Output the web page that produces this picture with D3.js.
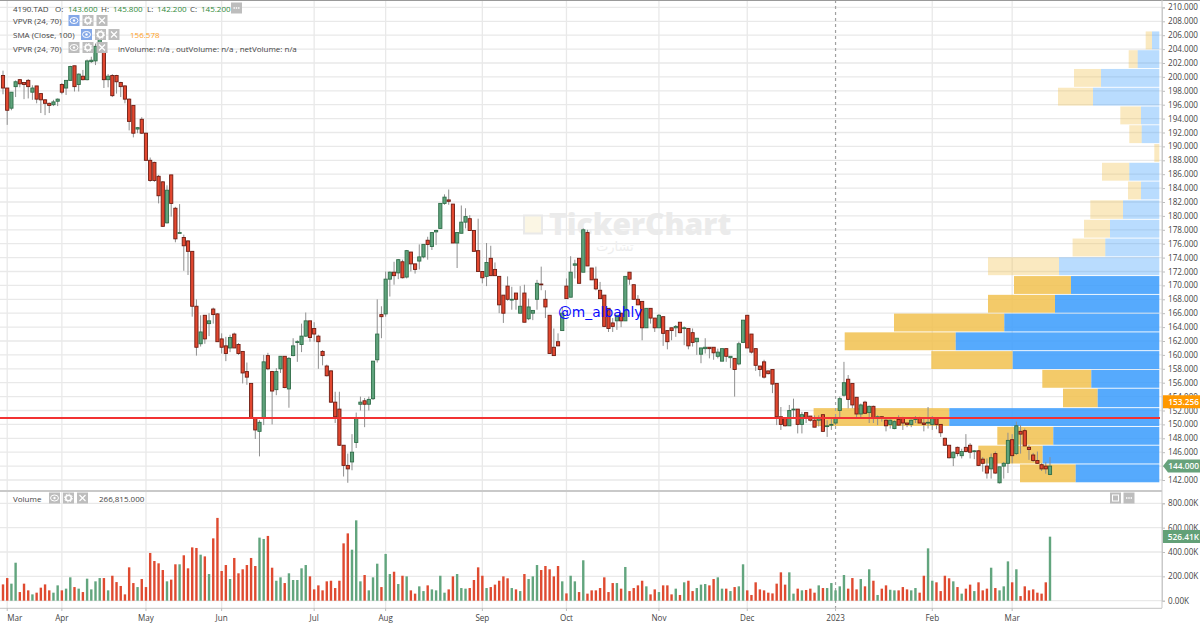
<!DOCTYPE html>
<html>
<head>
<meta charset="utf-8">
<script src="https://cdn.jsdelivr.net/npm/d3@7"></script>
<style>
  html, body { margin: 0; padding: 0; background: #fff; }
  svg { display: block; }
  text { font-family: 'Open Sans', sans-serif; }
</style>
</head>
<body>
<div id="chart"></div>
<script>
const opens = [
  200.2,198.4,195.5,198.6,199.6,199.2,199.5,197.8,198.7,197.6,
  196.7,196.2,196.0,196.5,198.9,198.4,199.5,201.6,198.9,200.1,
  199.6,202.2,202.3,204.4,203.9,199.6,200.2,200.2,199.2,198.7,
  196.8,195.9,192.5,193.9,191.9,188.0,187.7,185.7,184.9,179.0,
  185.9,181.1,177.5,176.9,176.4,174.9,167.0,161.6,165.7,164.5,
  166.6,165.9,162.3,161.3,161.0,163.0,161.5,160.5,157.6,155.9,
  150.9,149.0,150.9,159.9,157.6,155.0,158.0,159.8,155.1,159.9,
  161.8,161.5,162.7,164.9,163.8,162.7,160.5,158.4,157.7,153.2,
  152.2,147.0,144.1,144.6,147.4,152.9,153.4,152.9,153.7,159.3,
  165.8,165.9,170.9,171.9,171.8,173.4,171.2,174.8,173.1,173.5,
  174.1,176.5,175.6,177.7,178.2,181.8,182.3,181.7,176.1,177.5,
  179.1,179.6,177.9,175.0,172.0,171.3,173.9,172.3,171.3,168.6,
  169.9,167.9,168.9,166.0,168.9,165.2,166.0,168.0,170.2,168.0,
  165.7,161.1,161.9,163.5,169.9,168.3,172.9,173.9,171.9,177.6,
  172.5,170.9,169.3,168.6,166.7,164.6,164.9,166.0,164.9,171.9,
  170.1,168.0,167.7,163.9,166.7,165.3,163.9,165.5,163.5,163.9,
  163.9,164.7,163.8,163.8,163.2,161.9,160.1,160.9,161.1,161.1,
  159.8,159.1,160.9,159.6,159.5,158.7,161.8,165.7,163.0,160.9,
  158.4,159.0,157.7,157.9,155.9,151.1,151.0,149.8,152.1,152.2,
  150.0,151.7,151.2,150.6,150.6,151.4,149.7,149.9,150.2,152.0,
  154.2,156.5,155.9,153.9,151.5,153.2,151.7,152.6,151.0,151.1,
  150.6,150.0,149.4,150.7,150.9,150.2,150.0,150.7,150.9,150.2,
  150.2,150.0,150.9,150.0,148.0,147.0,145.2,146.7,145.5,146.7,
  147.0,146.1,146.2,145.0,144.0,143.6,145.8,141.6,144.0,144.4,
  147.8,145.8,149.0,149.1,146.7,145.6,144.8,144.2,144.0,142.8
]
const highs = [
  200.9,198.4,197.8,199.5,199.7,199.2,199.7,198.8,198.7,197.6,
  196.8,196.3,196.7,196.9,199.1,199.5,201.6,201.6,200.5,201.0,
  202.5,202.9,204.8,205.9,204.8,200.4,200.4,200.3,199.3,198.8,
  196.9,195.9,192.8,194.2,192.0,188.4,187.8,185.9,185.0,184.4,
  185.9,181.3,181.7,177.3,176.5,174.9,168.0,165.7,165.7,166.0,
  166.8,166.0,163.1,162.6,162.9,163.2,161.7,160.5,158.9,155.9,
  150.9,150.6,160.0,160.3,157.7,158.1,159.8,159.8,159.7,162.4,
  162.1,164.5,166.1,164.9,164.7,162.9,160.7,158.6,157.8,154.7,
  154.7,147.0,145.8,148.6,151.7,154.0,153.8,154.0,159.1,168.0,
  167.0,172.0,172.0,173.4,173.8,173.7,175.1,174.8,173.1,175.9,
  175.9,177.0,177.6,178.0,181.8,183.1,183.8,181.7,177.6,181.5,
  181.1,180.1,177.9,179.6,172.0,176.1,175.7,173.3,171.3,168.6,
  171.3,169.8,168.9,169.9,170.1,168.1,166.4,170.8,172.7,169.3,
  165.7,163.8,163.1,166.9,171.0,174.2,173.7,173.9,178.2,178.0,
  172.5,172.7,170.5,168.6,166.7,165.3,165.7,166.0,171.3,171.9,
  170.1,168.6,167.7,166.7,166.7,165.3,165.9,165.5,163.5,163.9,
  164.3,164.7,164.1,163.8,163.8,162.4,161.0,162.4,161.1,161.1,
  160.9,160.9,160.9,159.8,159.5,161.9,165.0,165.7,163.0,160.9,
  158.4,159.3,157.7,157.9,155.9,152.5,151.0,152.8,153.7,152.2,
  151.8,151.7,151.2,151.3,151.3,151.4,150.6,150.9,151.1,154.0,
  159.0,157.1,155.9,153.9,153.0,153.4,152.7,152.7,151.3,151.2,
  150.9,150.7,150.6,151.3,151.1,150.2,150.7,151.2,151.1,150.9,
  152.5,151.2,151.0,150.0,148.1,147.0,146.1,146.8,146.5,148.6,
  147.3,146.3,146.3,145.3,145.1,145.8,146.1,143.9,144.6,148.8,
  148.6,150.4,149.9,149.4,147.0,145.9,146.1,144.4,144.6,145.3
]
const lows = [
  197.5,193.1,195.2,197.1,198.5,196.8,196.9,196.7,196.2,194.8,
  194.5,194.8,195.8,195.8,197.5,197.4,199.5,197.9,197.9,199.5,
  199.5,202.0,201.7,203.8,198.4,198.5,197.1,197.6,197.1,196.2,
  192.3,191.3,191.9,191.8,187.9,184.9,184.9,181.8,178.4,178.9,
  179.9,176.2,177.5,172.1,171.5,165.5,159.9,161.2,161.6,162.7,
  164.5,161.9,160.2,159.1,160.4,161.0,160.0,155.9,155.7,150.9,
  147.9,145.4,149.9,157.8,150.0,154.2,157.4,155.2,152.4,159.8,
  159.0,160.4,162.6,161.9,161.9,158.0,158.5,156.9,153.1,150.2,
  146.9,142.5,141.6,143.4,146.6,152.0,149.6,152.0,153.5,158.9,
  162.4,165.5,168.4,170.1,170.9,171.0,171.0,172.0,171.7,172.3,
  173.9,173.7,175.1,175.8,178.2,181.6,181.6,176.1,172.5,177.5,
  178.2,177.9,174.9,172.0,170.3,169.9,171.4,171.4,166.0,164.6,
  167.8,166.5,166.5,166.0,164.7,165.0,165.0,166.5,169.3,165.3,
  160.2,159.9,161.3,163.5,168.1,168.3,171.0,170.3,171.9,172.8,
  170.8,169.3,168.1,164.0,163.3,163.3,163.6,164.0,164.9,170.1,
  168.0,167.2,162.1,163.9,164.5,163.3,163.9,161.3,160.8,162.1,
  162.6,163.1,161.4,160.8,161.2,160.0,158.8,160.2,159.5,159.3,
  159.5,159.1,159.0,158.1,154.0,158.5,161.7,161.0,160.2,157.7,
  156.9,156.6,157.2,154.5,149.9,149.2,149.7,149.8,150.9,148.7,
  148.7,150.2,150.4,149.6,149.7,148.9,148.2,149.2,149.9,150.9,
  154.0,152.3,152.3,151.0,151.0,151.5,150.2,150.2,149.9,150.4,
  149.0,149.4,149.3,149.8,149.2,149.6,149.6,150.2,150.2,149.0,
  149.4,149.2,149.3,148.2,146.9,145.1,144.0,145.4,145.1,146.0,
  145.1,145.0,144.0,143.2,142.2,142.2,142.9,141.5,142.2,143.0,
  144.4,145.6,145.8,146.9,144.9,144.6,144.3,143.3,142.9,142.7
]
const closes = [
  198.4,195.2,197.8,199.3,199.0,198.9,198.6,198.4,196.8,196.7,
  196.2,195.9,196.4,196.8,197.8,199.5,201.5,198.6,200.4,199.6,
  202.3,202.4,204.4,205.6,199.6,200.1,197.3,199.3,198.6,196.8,
  193.6,191.9,192.7,191.9,188.0,185.1,185.1,182.9,178.5,183.7,
  181.8,176.7,177.6,175.7,174.9,167.0,161.1,163.3,162.3,164.9,
  165.8,161.9,161.1,160.2,162.5,161.0,160.2,157.4,156.8,150.9,
  149.2,150.3,159.0,158.0,154.8,157.6,159.8,155.3,159.5,161.3,
  161.9,162.7,164.9,162.5,163.0,161.9,159.9,157.0,153.2,151.1,
  147.0,144.1,143.6,146.0,150.9,153.2,152.9,153.6,159.1,163.0,
  165.5,170.9,171.9,171.4,173.7,171.1,175.0,173.1,172.3,174.1,
  175.9,175.9,177.6,177.9,181.8,182.7,182.1,176.1,177.6,179.1,
  179.9,177.9,174.9,172.0,171.1,173.3,171.4,171.4,167.2,166.0,
  168.0,168.0,168.0,167.0,164.7,166.9,166.4,170.3,170.1,166.9,
  160.2,159.9,161.3,166.0,168.1,171.9,173.1,170.3,178.0,172.8,
  170.8,169.5,168.1,164.1,163.8,164.1,165.7,164.9,171.3,170.9,
  168.0,167.2,163.9,166.7,165.3,163.9,165.7,163.1,161.9,163.5,
  164.1,163.2,163.9,161.3,161.8,162.4,161.0,161.1,160.9,160.3,
  160.4,160.9,159.8,159.8,157.9,161.6,165.0,161.0,160.4,158.5,
  157.9,156.8,157.3,155.8,151.1,150.0,149.8,152.0,152.2,150.0,
  151.4,150.9,150.6,149.6,150.9,149.0,149.8,150.0,150.9,153.7,
  156.0,153.6,152.8,151.5,152.8,151.6,152.6,150.9,151.1,150.9,
  149.8,150.6,150.4,149.9,150.2,150.0,150.6,150.9,150.2,150.0,
  150.3,150.9,150.0,148.8,147.0,145.2,146.0,145.8,146.1,146.1,
  146.0,146.2,144.1,144.4,143.0,145.2,143.0,143.9,144.4,147.7,
  145.5,149.8,148.6,146.9,146.4,144.8,144.4,143.6,143.6,144.0
]
// volume in thousands of shares
const volumes = [
  134,186,140,312,71,140,85,52,66,107,
  134,85,66,126,85,99,192,112,99,71,
  181,93,159,186,186,85,205,153,121,52,
  274,145,112,178,112,392,326,307,252,159,
  173,299,299,373,266,438,433,378,364,219,
  512,680,244,293,178,351,225,258,293,351,
  285,518,507,532,271,164,192,145,225,170,
  170,266,293,200,93,126,85,159,164,104,
  164,471,553,419,660,159,211,85,192,304,
  112,384,219,238,137,205,200,85,58,118,
  79,126,93,85,205,66,93,200,219,104,
  99,104,170,274,205,104,112,132,164,200,
  184,104,93,79,219,178,200,293,252,285,
  258,200,285,159,60,205,159,71,332,58,
  85,85,104,192,71,145,145,99,277,79,
  104,126,164,118,52,93,71,126,126,52,
  99,47,151,164,79,104,132,137,126,178,
  192,99,99,79,112,118,299,85,47,151,
  93,85,66,60,140,233,132,233,58,99,
  85,88,99,66,126,104,104,145,85,118,
  211,99,186,93,178,118,258,164,47,99,
  126,90,85,85,112,93,85,104,66,205,
  430,164,151,79,205,184,159,112,58,99,
  132,79,151,85,99,271,104,85,118,323,
  151,258,38,118,85,93,66,58,151,526
]

// month ticks: index of the candle each label sits on
const monthIdx = [1,14,34,52,74,91,114,134,156,177,198,221,240]
const monthLabels = ['Mar','Apr','May','Jun','Jul','Aug','Sep','Oct','Nov','Dec','2023','Feb','Mar']

const priceTicks = d3.range(142, 211, 2)
const volumeTicks = [0, 200, 400, 600, 800]

// volume profile, 24 bins from the bottom up (thousands of shares)
const vpEdges = [141.6,144.3,147.0,149.7,152.4,155.2,157.9,160.6,163.3,166.0,168.7,171.4,174.1,
  176.8,179.5,182.3,185.0,187.7,190.4,193.1,195.8,198.5,201.2,203.9,206.6]
const vpIn = [836,1166,1060,2100,616,680,1466,2036,1550,1043,883,1003,540,493,363,183,300,0,176,183,663,583,216,73]
const vpOut = [557,644,560,1357,347,490,814,1110,1103,670,570,710,327,260,327,130,273,50,124,207,350,270,90,63]

const supportLevel = 150.92
const smaLast = 153.256
const lastClose = 144
const lastVolume = 526.41

const W = 1200, H = 626
const axisX = 1162
const svg = d3.select('#chart').append('svg').attr('width', W).attr('height', H)

const x = d3.scaleBand().domain(d3.range(opens.length)).range([0.9, 1052.1])
const cx = i => x(i) + x.bandwidth() / 2
const y = d3.scaleLinear().domain([142, 210]).range([480, 7.4])
const yv = d3.scaleLinear().domain([0, 800]).range([600.7, 503.3])
const vpx = d3.scaleLinear().domain([0, 3457]).range([1159.3, 813.6])

const UP = '#5fa37c', UP_D = '#2f6d48', DOWN = '#e2472f', DOWN_D = '#6e1c12'

// Grid
const grid = svg.append('g').attr('stroke', '#e9e9e9').attr('stroke-width', 1.3)
grid.selectAll('.h').data(priceTicks).join('line').attr('class', 'h')
  .attr('x1', 0).attr('x2', axisX).attr('y1', d => y(d)).attr('y2', d => y(d))
grid.selectAll('.hv').data(volumeTicks).join('line').attr('class', 'hv')
  .attr('x1', 0).attr('x2', axisX).attr('y1', d => yv(d)).attr('y2', d => yv(d))
grid.selectAll('.v').data(monthIdx.filter(d => d !== 198)).join('line').attr('class', 'v')
  .attr('x1', d => cx(d)).attr('x2', d => cx(d)).attr('y1', 0).attr('y2', 608)

// Watermark
const wm = svg.append('g')
wm.append('rect').attr('x', 524).attr('y', 215.5).attr('width', 18).attr('height', 18)
  .attr('fill', '#fbf6e4').attr('stroke', '#e9e9e9').attr('stroke-width', 2)
wm.append('text').attr('x', 549).attr('y', 235).attr('fill', '#ebebeb')
  .style('font-size', '30px').style('font-weight', 800).text('TickerChart')
wm.append('text').attr('x', 596).attr('y', 251).attr('fill', '#eeeeee')
  .style('font-size', '13px').style('font-family', 'DejaVu Sans').text('تشارت')

// Volume profile
const vp = svg.append('g')
vp.selectAll('.out').data(vpOut).join('rect').attr('class', 'out')
  .attr('x', (d, i) => vpx(d + vpIn[i])).attr('width', d => vpx(0) - vpx(d))
  .attr('y', (d, i) => y(vpEdges[i + 1]) + 0.4).attr('height', (d, i) => y(vpEdges[i]) - y(vpEdges[i + 1]) - 0.9)
  .attr('fill', '#f1c14f').attr('opacity', (d, i) => i > 10 ? 0.36 : 0.85)
vp.selectAll('.in').data(vpIn).join('rect').attr('class', 'in')
  .attr('x', d => vpx(d)).attr('width', d => vpx(0) - vpx(d))
  .attr('y', (d, i) => y(vpEdges[i + 1]) + 0.4).attr('height', (d, i) => y(vpEdges[i]) - y(vpEdges[i + 1]) - 0.9)
  .attr('fill', '#3d9dfd').attr('opacity', (d, i) => i > 10 ? 0.36 : 0.87)

// Crosshair date line
svg.append('line').attr('x1', cx(198)).attr('x2', cx(198)).attr('y1', 0).attr('y2', 608)
  .attr('stroke', '#a0a0a0').attr('stroke-width', 1.2).attr('stroke-dasharray', '3,3')

// Candles
const candles = svg.append('g').selectAll('g').data(d3.range(opens.length)).join('g')
candles.append('line')
  .attr('x1', d => cx(d)).attr('x2', d => cx(d))
  .attr('y1', d => y(highs[d])).attr('y2', d => y(lows[d]))
  .attr('stroke', '#8f8f8f').attr('stroke-width', 1)
candles.append('rect')
  .attr('x', d => cx(d) - 1.6).attr('width', 3.2)
  .attr('y', d => y(Math.max(opens[d], closes[d])))
  .attr('height', d => Math.max(0.8, Math.abs(y(opens[d]) - y(closes[d]))))
  .attr('fill', d => closes[d] >= opens[d] ? UP : DOWN)
  .attr('stroke', d => closes[d] >= opens[d] ? UP_D : DOWN_D)
  .attr('stroke-width', 0.9)

// Horizontal level
svg.append('line').attr('x1', 0).attr('x2', 1160).attr('y1', y(supportLevel)).attr('y2', y(supportLevel))
  .attr('stroke', '#f23232').attr('stroke-width', 2)

svg.append('text').attr('x', 558).attr('y', 317).attr('fill', '#0a0aff')
  .style('font-size', '13.8px').style('font-family', 'DejaVu Sans').text('@m_albahly')

// Volume bars
svg.append('g').selectAll('rect').data(volumes).join('rect')
  .attr('x', (d, i) => cx(i) - 1.2).attr('width', 2.4)
  .attr('y', d => yv(d)).attr('height', d => yv(0) - yv(d))
  .attr('fill', (d, i) => closes[i] >= opens[i] ? '#62a57e' : '#df4a30')

// Panel borders
svg.append('line').attr('x1', 0).attr('x2', W).attr('y1', 0.5).attr('y2', 0.5).attr('stroke', '#9a9a9a')
svg.append('line').attr('x1', 0).attr('x2', axisX).attr('y1', 491).attr('y2', 491).attr('stroke', '#c9c9c9').attr('stroke-width', 2)
svg.append('line').attr('x1', 0).attr('x2', axisX).attr('y1', 608.4).attr('y2', 608.4).attr('stroke', '#cfcfcf').attr('stroke-width', 1.2)

// Axes
function styleAxis(g) {
  g.selectAll('.domain').attr('stroke', '#c9c9c9')
  g.selectAll('.tick line').attr('stroke', '#bdbdbd')
  g.selectAll('.tick text').attr('fill', '#444').style('font-size', '8.1px').style('font-family', "'Open Sans', sans-serif")
}
svg.append('g').attr('transform', `translate(${axisX},0)`)
  .call(d3.axisRight(y).tickValues(priceTicks).tickFormat(d3.format('.3f')).tickSize(3).tickPadding(3))
  .call(styleAxis)
svg.append('g').attr('transform', `translate(${axisX},0)`)
  .call(d3.axisRight(yv).tickValues(volumeTicks).tickFormat(d => d3.format('.2f')(d) + 'K').tickSize(3).tickPadding(3))
  .call(styleAxis)
svg.append('line').attr('x1', axisX).attr('x2', axisX).attr('y1', 0).attr('y2', 608).attr('stroke', '#c9c9c9')

const xAxis = svg.append('g').attr('transform', 'translate(0,608)')
  .call(d3.axisBottom(x).tickValues(monthIdx).tickFormat((d, i) => monthLabels[i]).tickSize(3).tickPadding(4))
  .call(styleAxis)
xAxis.select('.domain').remove()
xAxis.select('.tick text').attr('text-anchor', 'start')

// Value tags on the axis
function tag(yPos, fill, label, pointed) {
  const g = svg.append('g')
  const l = axisX + 1, r = 1200, h = 6.5
  const pts = pointed
    ? [[l + 5, yPos - h], [r, yPos - h], [r, yPos + h], [l + 5, yPos + h], [l, yPos]]
    : [[l, yPos - h], [r, yPos - h], [r, yPos + h], [l, yPos + h]]
  g.append('polygon').attr('points', pts.join(' ')).attr('fill', fill)
  g.append('text').attr('x', 1199).attr('y', yPos + 3).attr('text-anchor', 'end').attr('fill', '#fff')
    .style('font-size', '8.3px').style('font-weight', 600).text(label)
}
tag(y(smaLast), '#ff9800', d3.format('.3f')(smaLast), false)
tag(y(lastClose), '#67a27b', d3.format('.3f')(lastClose), true)
tag(yv(lastVolume), '#62a077', lastVolume + 'K', false)

// Legend rows
function label(xPos, yPos, str, fill) {
  svg.append('text').attr('x', xPos).attr('y', yPos).attr('fill', fill || '#444')
    .style('font-size', '8px').text(str)
}
function button(xPos, yPos, kind, fill) {
  const g = svg.append('g').attr('transform', `translate(${xPos},${yPos})`)
  g.append('rect').attr('width', 11).attr('height', 11).attr('fill', fill)
  if (kind === 'eye') {
    g.append('ellipse').attr('cx', 5.5).attr('cy', 5.5).attr('rx', 4).attr('ry', 3).attr('fill', 'none').attr('stroke', '#fff')
    g.append('circle').attr('cx', 5.5).attr('cy', 5.5).attr('r', 1.2).attr('fill', '#fff')
  } else if (kind === 'gear') {
    g.append('circle').attr('cx', 5.5).attr('cy', 5.5).attr('r', 2.8).attr('fill', 'none').attr('stroke', '#fff').attr('stroke-width', 1.6)
    g.append('circle').attr('cx', 5.5).attr('cy', 5.5).attr('r', 4).attr('fill', 'none').attr('stroke', '#fff').attr('stroke-dasharray', '1.5,1.6')
  } else if (kind === 'x') {
    g.append('path').attr('d', 'M2.5,2.5L8.5,8.5M8.5,2.5L2.5,8.5').attr('stroke', '#fff').attr('stroke-width', 1.2)
  } else if (kind === 'dots') {
    g.append('path').attr('d', 'M2.5,5.5h1.4M4.8,5.5h1.4M7.1,5.5h1.4').attr('stroke', '#fff').attr('stroke-width', 1.4)
  } else if (kind === 'box') {
    g.append('rect').attr('x', 2.5).attr('y', 2.5).attr('width', 6).attr('height', 6).attr('fill', 'none').attr('stroke', '#fff')
  }
}
const BLUE_BTN = '#84a8e8', GREY_BTN = '#bdbdbd', GREEN_TXT = '#2f8a3a'

label(13, 11.5, '4190.TAD')
label(55, 11.5, 'O:'); label(68, 11.5, '143.600', GREEN_TXT)
label(101, 11.5, 'H:'); label(113, 11.5, '145.800', GREEN_TXT)
label(147, 11.5, 'L:'); label(157, 11.5, '142.200', GREEN_TXT)
label(190, 11.5, 'C:'); label(201, 11.5, '145.200', GREEN_TXT)
button(231, 2.5, 'dots', GREY_BTN)

label(13, 24, 'VPVR  (24, 70)')
button(68.5, 15, 'eye', BLUE_BTN); button(82.5, 15, 'gear', GREY_BTN); button(96.5, 15, 'x', GREY_BTN)

label(13, 37.7, 'SMA  (Close, 100)')
button(81, 29, 'eye', BLUE_BTN); button(95, 29, 'gear', GREY_BTN); button(108.5, 29, 'x', GREY_BTN)
label(130, 37.7, '156.578', '#ff9f1c')

label(13, 51.5, 'VPVR  (24, 70)')
button(68.5, 42, 'eye', GREY_BTN); button(82.5, 42, 'gear', GREY_BTN); button(96.5, 42, 'x', GREY_BTN)
label(118, 51.5, 'inVolume: n/a , outVolume: n/a , netVolume: n/a')

label(13, 502, 'Volume')
button(49, 492.5, 'eye', GREY_BTN); button(63, 492.5, 'gear', GREY_BTN); button(77, 492.5, 'x', GREY_BTN)
label(99, 502, '266,815.000')
button(1110, 492.5, 'box', GREY_BTN); button(1123.5, 492.5, 'dots', GREY_BTN)
</script>
</body>
</html>
